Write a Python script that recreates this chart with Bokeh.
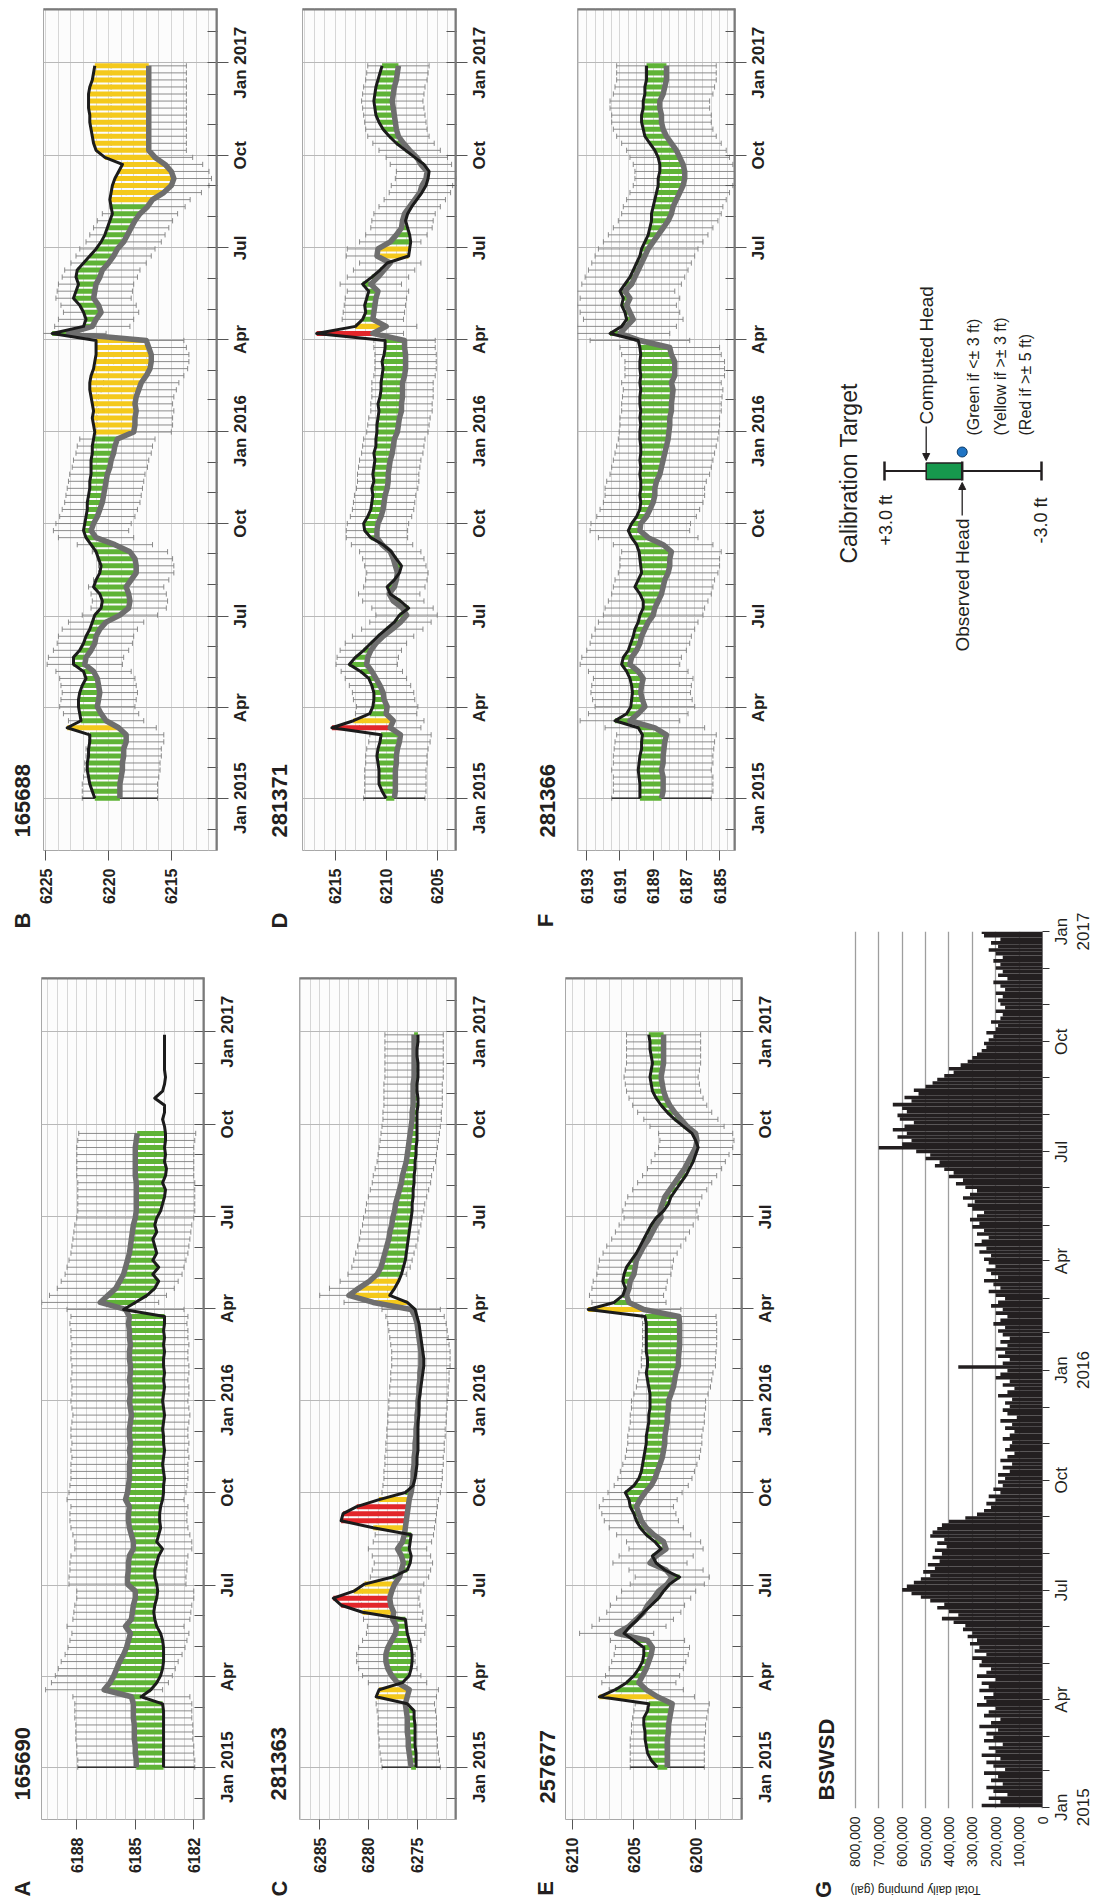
import math
import datetime as dt
from bokeh.plotting import figure
from bokeh.layouts import row, column
from bokeh.models import (Range1d, FixedTicker, Span, Label, ColumnDataSource,
                          Arrow, NormalHead, NumeralTickFormatter)
from bokeh.embed import file_html
from bokeh.resources import INLINE

FONT = "Liberation Sans"
BASE = dt.date(2015, 1, 1)


def dnum(y, m, d=1):
    return (dt.date(y, m, d) - BASE).days


# ---------------- data (weekly, starting 1 Jan 2015) ----------------
N_WEEKS = 105

A_COMP = [6183.55, 6183.55, 6183.55, 6183.55, 6183.55, 6183.55, 6183.55, 6183.55, 6183.55, 6183.6,
          6184.7, 6184.2, 6183.9, 6183.7, 6183.6, 6183.55, 6183.55, 6183.55, 6183.6, 6183.7,
          6183.9, 6184.0, 6184.05, 6184.0, 6183.9, 6183.85, 6183.9, 6184.0, 6184.0, 6183.9,
          6183.8, 6183.6, 6183.9, 6183.8, 6183.7, 6183.75, 6183.75, 6183.7, 6183.6, 6183.55,
          6183.55, 6183.5, 6183.55, 6183.6, 6183.55, 6183.5, 6183.55, 6183.55, 6183.6, 6183.55,
          6183.5, 6183.55, 6183.6, 6183.55, 6183.5, 6183.55, 6183.5, 6183.55, 6183.55, 6183.5,
          6183.55, 6183.5, 6183.55, 6183.5, 6183.5, 6185.6, 6185.0, 6184.4, 6184.0, 6183.8,
          6184.1, 6183.8, 6184.1, 6183.9, 6184.0, 6184.1, 6183.9, 6184.0, 6183.9, 6183.7,
          6183.6, 6183.5, 6183.45, 6183.6, 6183.45, 6183.4, 6183.5, 6183.45, 6183.5, 6183.45,
          6183.45, 6183.5, 6183.6, 6183.5, 6183.5, 6184.0, 6183.6, 6183.5, 6183.45, 6183.5,
          6183.5, 6183.5, 6183.5, 6183.5, 6183.5]
A_OBS = [6184.95, 6184.95, 6185.0, 6185.0, 6185.05, 6185.05, 6185.05, 6185.1, 6185.1, 6185.1,
         6185.2, 6186.6, 6186.3, 6186.1, 6185.95, 6185.8, 6185.6, 6185.45, 6185.35, 6185.25,
         6185.5, 6185.2, 6185.15, 6185.1, 6185.0, 6185.0, 6185.4, 6185.4, 6185.35, 6185.35,
         6185.3, 6185.1, 6185.1, 6185.2, 6185.3, 6185.35, 6185.35, 6185.3, 6185.5, 6185.4,
         6185.35, 6185.3, 6185.3, 6185.3, 6185.25, 6185.3, 6185.25, 6185.3, 6185.3, 6185.25,
         6185.2, 6185.25, 6185.3, 6185.25, 6185.25, 6185.3, 6185.25, 6185.25, 6185.3, 6185.3,
         6185.25, 6185.3, 6185.3, 6185.35, 6185.3, 6185.5, 6186.8, 6186.4, 6186.0, 6185.8,
         6185.6, 6185.5, 6185.4, 6185.3, 6185.25, 6185.2, 6185.15, 6185.1, 6185.0, 6184.95,
         6184.95, 6184.95, 6184.95, 6184.95, 6185.0, 6185.0, 6185.0, 6185.0, 6185.0, 6184.95,
         6184.9, None, None, None, None, None, None, None, None, None,
         None, None, None, None, None]

B_COMP = [6221.1, 6221.3, 6221.5, 6221.6, 6221.7, 6221.7, 6221.6, 6221.6, 6221.5, 6221.5,
          6223.3, 6222.2, 6222.3, 6222.4, 6222.4, 6222.3, 6222.1, 6221.8, 6222.0, 6222.8,
          6222.8, 6222.3, 6222.0, 6221.8, 6221.5, 6221.3, 6221.1, 6220.6, 6220.5, 6220.7,
          6221.2, 6221.0, 6220.7, 6220.6, 6220.8, 6221.0, 6221.4, 6221.8, 6222.0, 6221.9,
          6221.8, 6221.7, 6221.7, 6221.6, 6221.5, 6221.5, 6221.4, 6221.4, 6221.4, 6221.3,
          6221.3, 6221.2, 6221.1, 6221.2, 6221.3, 6221.2, 6221.3, 6221.4, 6221.5, 6221.5,
          6221.4, 6221.2, 6221.1, 6221.0, 6221.0, 6221.0, 6224.5, 6222.0, 6221.8, 6222.0,
          6222.3, 6222.8, 6222.6, 6222.4, 6222.6, 6222.5, 6222.0, 6221.5, 6221.0, 6220.6,
          6220.3, 6220.1, 6219.9, 6219.7, 6219.8, 6219.9, 6219.8, 6219.7, 6219.5, 6219.2,
          6218.9, 6220.3, 6221.0, 6221.2, 6221.3, 6221.4, 6221.5, 6221.5, 6221.6, 6221.6,
          6221.6, 6221.5, 6221.3, 6221.2, 6221.1]
B_OBS = [6219.1, 6219.1, 6219.1, 6219.0, 6218.9, 6218.9, 6218.8, 6218.8, 6218.6, 6218.6,
         6219.2, 6220.2, 6220.6, 6220.9, 6220.8, 6220.7, 6220.8, 6220.9, 6221.2, 6221.9,
         6221.8, 6221.4, 6221.1, 6221.0, 6220.7, 6220.2, 6219.1, 6218.4, 6218.3, 6218.4,
         6218.6, 6218.2, 6217.8, 6217.8, 6217.9, 6218.3, 6219.5, 6221.0, 6221.4, 6221.2,
         6220.9, 6220.7, 6220.5, 6220.4, 6220.3, 6220.2, 6220.1, 6219.9, 6219.8, 6219.6,
         6219.5, 6219.3, 6218.0, 6217.9, 6217.9, 6217.8, 6217.9, 6217.8, 6217.6, 6217.4,
         6217.0, 6216.7, 6216.6, 6216.6, 6216.8, 6217.0, 6223.2, 6221.3, 6221.0, 6220.6,
         6220.8, 6221.2, 6221.1, 6221.0, 6220.7, 6220.5, 6220.0, 6219.6, 6219.3, 6218.8,
         6218.5, 6218.2, 6217.9, 6217.5, 6216.9, 6216.5, 6215.6, 6215.0, 6214.8, 6215.0,
         6215.5, 6216.3, 6216.8, 6216.8, 6216.8, 6216.8, 6216.8, 6216.8, 6216.8, 6216.8,
         6216.8, 6216.8, 6216.8, 6216.8, 6216.8]

C_COMP = [6275.1, 6275.1, 6275.1, 6275.2, 6275.2, 6275.2, 6275.2, 6275.3, 6275.3, 6276.0,
          6279.2, 6278.9, 6276.5, 6275.8, 6275.6, 6275.5, 6275.5, 6275.6, 6275.8, 6276.0,
          6276.1, 6276.2, 6280.6, 6282.8, 6283.6, 6281.5, 6280.4, 6277.5, 6276.0, 6275.7,
          6275.6, 6275.8, 6275.7, 6275.6, 6279.5, 6282.8, 6282.6, 6281.2, 6278.9, 6276.2,
          6275.4, 6275.2, 6275.1, 6275.0, 6275.0, 6274.9, 6274.9, 6274.9, 6274.9, 6274.9,
          6274.8, 6274.8, 6274.8, 6274.7, 6274.6, 6274.5, 6274.4, 6274.3, 6274.3, 6274.4,
          6274.5, 6274.6, 6274.7, 6274.8, 6275.0, 6275.2, 6276.0, 6277.8, 6277.3, 6276.9,
          6276.6, 6276.4, 6276.2, 6276.1, 6276.0, 6275.9, 6275.8, 6275.7, 6275.6, 6275.5,
          6275.5, 6275.4, 6275.4, 6275.3, 6275.3, 6275.2, 6275.2, 6275.1, 6275.1, 6275.0,
          6275.0, 6275.0, 6275.0, 6275.0, 6274.9, 6274.9, 6275.0, 6275.0, 6274.9, 6274.9,
          6274.9, 6275.0, 6275.0, 6274.9, 6274.9]
C_OBS = [6275.6, 6275.7, 6275.8, 6275.9, 6275.9, 6276.0, 6276.0, 6276.0, 6276.1, 6276.2,
         6276.0, 6275.8, 6277.0, 6277.6, 6278.0, 6278.2, 6278.2, 6278.0, 6277.6, 6277.2,
         6277.1, 6277.5, 6277.4, 6277.7, 6277.8, 6277.6, 6277.3, 6276.8, 6276.6, 6276.4,
         6276.6, 6277.0, 6276.5, 6276.3, 6276.2, 6276.1, 6276.0, 6275.9, 6275.8, 6275.6,
         6275.5, 6275.4, 6275.4, 6275.3, 6275.3, 6275.2, 6275.2, 6275.1, 6275.1, 6275.0,
         6275.0, 6274.9, 6274.9, 6274.8, 6274.8, 6274.7, 6274.7, 6274.6, 6274.6, 6274.6,
         6274.7, 6274.8, 6274.9, 6275.0, 6275.2, 6275.6, 6279.5, 6282.0, 6281.0, 6279.9,
         6279.1, 6278.7, 6278.5, 6278.3, 6278.1, 6277.9, 6277.8, 6277.6, 6277.5, 6277.3,
         6277.2, 6277.0, 6276.8, 6276.6, 6276.5, 6276.3, 6276.1, 6276.0, 6275.9, 6275.8,
         6275.7, 6275.6, 6275.5, 6275.5, 6275.4, 6275.4, 6275.4, 6275.4, 6275.3, 6275.3,
         6275.3, 6275.3, 6275.3, 6275.3, 6275.3]

D_COMP = [6210.0, 6210.4, 6210.7, 6210.7, 6210.7, 6210.8, 6210.9, 6210.8, 6210.6, 6210.5,
          6215.3, 6213.2, 6211.6, 6211.3, 6211.2, 6211.2, 6211.4, 6211.7, 6212.5, 6213.6,
          6213.0, 6212.2, 6211.5, 6210.8, 6210.0, 6209.2, 6208.7, 6207.8, 6208.6, 6209.6,
          6209.9, 6209.2, 6208.7, 6208.5, 6209.0, 6209.5, 6210.3, 6211.5, 6212.1, 6212.2,
          6211.8, 6211.5, 6211.4, 6211.3, 6211.4, 6211.2, 6211.3, 6211.2, 6211.1, 6211.2,
          6211.0, 6211.0, 6210.9, 6210.9, 6210.8, 6210.7, 6210.8, 6210.6, 6210.5, 6210.5,
          6210.4, 6210.3, 6210.4, 6210.2, 6210.1, 6210.1, 6216.8, 6213.0, 6212.3, 6212.0,
          6212.1, 6211.9, 6211.7, 6212.3, 6211.4, 6210.6, 6209.9, 6207.8, 6207.7, 6207.6,
          6207.7, 6207.9, 6208.1, 6207.9, 6207.5, 6207.0, 6206.5, 6206.1, 6205.9, 6205.8,
          6206.3, 6207.2, 6208.1, 6209.0, 6209.7, 6210.3, 6210.7, 6211.0, 6211.1, 6211.2,
          6211.1, 6211.0, 6210.8, 6210.6, 6210.4]
D_OBS = [6209.2, 6209.1, 6209.1, 6209.1, 6209.1, 6209.0, 6209.0, 6208.9, 6208.7, 6208.6,
         6209.6, 6209.3, 6210.0, 6209.9, 6210.2, 6210.3, 6210.6, 6211.0, 6211.4, 6211.9,
         6211.8, 6211.5, 6211.0, 6210.3, 6209.4, 6208.6, 6208.0, 6208.4, 6209.3, 6209.7,
         6209.2, 6209.0, 6208.9, 6209.1, 6209.3, 6209.6, 6210.4, 6210.9, 6210.9, 6210.8,
         6210.5, 6210.3, 6210.2, 6210.1, 6209.9, 6209.8, 6209.8, 6209.7, 6209.6, 6209.4,
         6209.3, 6209.2, 6208.9, 6208.8, 6208.7, 6208.5, 6208.5, 6208.4, 6208.4, 6208.4,
         6208.2, 6208.1, 6208.1, 6208.1, 6208.2, 6208.2, 6211.3, 6210.0, 6211.3, 6211.2,
         6211.1, 6211.0, 6210.8, 6211.5, 6210.8, 6210.2, 6209.6, 6210.9, 6210.8, 6209.6,
         6209.0, 6208.5, 6208.4, 6208.2, 6207.7, 6207.2, 6206.7, 6206.5, 6206.1, 6206.0,
         6206.6, 6207.0, 6207.7, 6208.3, 6208.8, 6209.0, 6209.1, 6209.2, 6209.3, 6209.4,
         6209.3, 6209.2, 6209.0, 6208.9, 6208.8]

E_COMP = [6203.1, 6203.6, 6203.9, 6204.0, 6204.1, 6204.1, 6204.2, 6204.2, 6203.9, 6203.8,
          6207.8, 6206.5, 6205.6, 6205.0, 6204.6, 6204.3, 6204.2, 6204.2, 6205.0, 6205.8,
          6205.3, 6204.7, 6204.2, 6203.6, 6203.0, 6202.6, 6202.1, 6201.3, 6202.5, 6203.2,
          6203.5, 6202.8, 6203.3, 6204.0, 6204.5, 6204.8, 6205.0, 6205.3, 6205.4, 6205.7,
          6205.0, 6204.6, 6204.4, 6204.3, 6204.2, 6204.1, 6204.0, 6204.0, 6203.9, 6203.8,
          6203.8, 6203.7, 6203.7, 6203.7, 6203.8, 6203.9, 6204.0, 6203.9, 6203.9, 6204.0,
          6204.0, 6204.0, 6204.0, 6204.0, 6204.1, 6208.7, 6206.6, 6205.9, 6205.7, 6205.9,
          6205.8, 6205.6, 6205.2, 6204.8, 6204.5, 6204.2, 6203.9, 6203.6, 6203.2, 6202.6,
          6202.2, 6202.0, 6201.6, 6201.2, 6200.8, 6200.5, 6200.2, 6200.0, 6199.8, 6200.0,
          6200.3, 6201.0, 6201.7, 6202.3, 6202.8, 6203.2, 6203.5, 6203.6, 6203.7, 6203.6,
          6203.5, 6203.6, 6203.7, 6203.7, 6203.8]
E_OBS = [6202.3, 6202.3, 6202.3, 6202.3, 6202.3, 6202.2, 6202.2, 6202.1, 6202.0, 6201.9,
         6203.1, 6204.0, 6204.6, 6204.3, 6204.0, 6203.8, 6203.6, 6203.5, 6203.9, 6206.4,
         6205.4, 6204.8, 6204.2, 6203.9, 6203.4, 6203.0, 6202.3, 6201.9, 6202.4, 6203.7,
         6203.2, 6202.4, 6202.6, 6203.4, 6204.0, 6204.4, 6204.6, 6204.8, 6204.5, 6204.1,
         6203.6, 6203.3, 6203.1, 6202.9, 6202.7, 6202.6, 6202.5, 6202.5, 6202.4, 6202.3,
         6202.3, 6202.2, 6202.2, 6202.0, 6201.8, 6201.7, 6201.6, 6201.4, 6201.4, 6201.35,
         6201.3, 6201.3, 6201.3, 6201.3, 6201.35, 6204.2, 6205.4, 6205.6, 6205.4, 6205.3,
         6205.0, 6204.9, 6204.8, 6204.5, 6204.2, 6203.8, 6203.5, 6203.2, 6202.8, 6202.9,
         6202.7, 6202.5, 6202.1, 6201.7, 6201.3, 6200.9, 6200.6, 6200.3, 6200.0, 6199.9,
         6200.0, 6200.7, 6201.2, 6201.7, 6202.1, 6202.4, 6202.6, 6202.7, 6202.8, 6202.7,
         6202.6, 6202.6, 6202.6, 6202.6, 6202.6]

F_COMP = [6189.8, 6189.8, 6189.8, 6189.85, 6189.9, 6189.85, 6189.8, 6189.7, 6189.7, 6189.65,
          6189.9, 6191.3, 6190.6, 6190.35, 6190.3, 6190.25, 6190.3, 6190.4, 6190.6, 6190.9,
          6190.8, 6190.5, 6190.35, 6190.2, 6190.1, 6189.9, 6189.8, 6189.6, 6189.6, 6189.8,
          6190.1, 6189.9, 6189.7, 6189.75, 6189.8, 6189.85, 6190.0, 6190.3, 6190.5, 6190.3,
          6190.0, 6189.8, 6189.75, 6189.8, 6189.75, 6189.75, 6189.8, 6189.75, 6189.8, 6189.75,
          6189.75, 6189.8, 6189.8, 6189.75, 6189.8, 6189.75, 6189.8, 6189.8, 6189.75, 6189.8,
          6189.75, 6189.8, 6189.8, 6189.75, 6189.8, 6189.9, 6191.6, 6190.9, 6190.6, 6190.7,
          6190.9, 6190.8, 6191.0, 6190.7, 6190.4, 6190.2, 6190.0, 6189.8, 6189.7, 6189.5,
          6189.3, 6189.2, 6189.1, 6189.1, 6189.0, 6188.9, 6188.8, 6188.7, 6188.7, 6188.6,
          6188.6, 6188.7, 6188.9, 6189.2, 6189.5, 6189.6, 6189.7, 6189.7, 6189.6, 6189.6,
          6189.5, 6189.5, 6189.4, 6189.4, 6189.4]
F_OBS = [6188.5, 6188.4, 6188.4, 6188.4, 6188.5, 6188.4, 6188.4, 6188.35, 6188.3, 6188.2,
         6188.9, 6190.4, 6189.9, 6189.5, 6189.65, 6189.75, 6189.7, 6189.6, 6189.9, 6190.4,
         6190.3, 6190.0, 6189.8, 6189.7, 6189.5, 6189.3, 6189.0, 6188.9, 6188.7, 6188.5,
         6188.4, 6188.3, 6188.1, 6188.0, 6188.0, 6187.9, 6188.4, 6189.3, 6189.8, 6189.75,
         6189.4, 6189.2, 6189.0, 6188.9, 6188.9, 6188.8, 6188.6, 6188.5, 6188.4, 6188.3,
         6188.2, 6188.1, 6188.05, 6188.0, 6188.0, 6187.9, 6187.9, 6187.85, 6187.8, 6187.9,
         6187.7, 6187.7, 6187.7, 6187.9, 6188.0, 6189.8, 6191.0, 6190.6, 6190.2, 6190.4,
         6190.6, 6190.4, 6190.7, 6190.3, 6190.1, 6189.9, 6189.7, 6189.5, 6189.3, 6189.0,
         6188.7, 6188.4, 6188.1, 6187.9, 6187.8, 6187.6, 6187.4, 6187.2, 6187.1, 6187.1,
         6187.2, 6187.4, 6187.6, 6187.9, 6188.2, 6188.4, 6188.5, 6188.5, 6188.6, 6188.6,
         6188.4, 6188.3, 6188.2, 6188.2, 6188.2]

# BSWSD total daily pumping, thousand gallons, one value per 3-day step from 1 Jan 2015
G_PUMP_K = [260, 180, 230, 150, 210, 240, 170, 220, 190, 250, 160,
            210, 240, 180, 260, 200, 230, 170, 250, 210,
            240, 190, 270, 220, 180, 250, 230, 200, 280, 240,
            250, 210, 270, 230, 260, 200, 280, 240, 220, 270,
            260, 300, 240, 290, 270, 310, 280, 320, 300, 340,
            330, 380, 430, 360, 400, 450, 420, 480, 520, 560,
            600, 580, 550, 520, 480, 510, 460, 490, 440, 470,
            430, 460, 410, 450, 420, 480, 470, 450, 430, 400, 330,
            280, 250, 220, 240, 200, 230, 180, 210, 170, 190,
            160, 190, 140, 170, 130, 180, 150, 120, 160, 140, 130,
            170, 140, 120, 160, 130, 180, 110, 150, 170, 140,
            160, 130, 190, 150, 120, 170, 140, 200, 180, 150,
            360, 170, 140, 190, 160, 200, 150, 180, 140, 170,
            190, 160, 210, 180, 150, 200, 170, 220, 190, 160,
            200, 230, 180, 210, 250, 190, 220, 240, 200, 230,
            250, 220, 270, 240, 290, 260, 230, 280, 250, 300,
            270, 310, 280, 250, 300, 320, 290, 340, 310, 280,
            330, 370, 340, 400, 380, 420, 460, 440, 500, 480,
            540, 700, 600, 560, 620, 580, 640, 590, 550, 610,
            620, 580, 600, 640, 560, 590, 530, 550, 500, 470, 450,
            420, 380, 400, 350, 320, 300, 280, 260, 240, 250,
            230, 210, 240, 200, 190, 220, 180, 170, 200, 160, 180,
            190, 170, 200, 160, 180, 210, 150, 190, 170, 200,
            180, 210, 170, 200, 230, 190, 220, 180, 250, 260]
G_STEP_DAYS = 3

QUARTERS = [(2015, 1), (2015, 4), (2015, 7), (2015, 10), (2016, 1),
            (2016, 4), (2016, 7), (2016, 10), (2017, 1)]
QUARTER_LABELS = ["Jan 2015", "Apr", "Jul", "Oct", "Jan 2016", "Apr", "Jul", "Oct", "Jan 2017"]
G_MONTH_LABELS = ["Jan", "Apr", "Jul", "Oct", "Jan", "Apr", "Jul", "Oct", "Jan"]
G_YEAR_LABELS = ["2015", "", "", "", "2016", "", "", "", "2017"]

for lst in (A_COMP, A_OBS, B_COMP, B_OBS, C_COMP, C_OBS, D_COMP, D_OBS, E_COMP, E_OBS, F_COMP, F_OBS):
    assert len(lst) == N_WEEKS, len(lst)
assert len(G_PUMP_K) == 244, len(G_PUMP_K)

WEEK_DAYS = [7 * i for i in range(N_WEEKS)]
Q_TICKS = [dnum(y, m) for (y, m) in QUARTERS]


def month_list(y0, m0, y1, m1):
    out = []
    y, m = y0, m0
    while (y, m) <= (y1, m1):
        out.append(dnum(y, m))
        m += 1
        if m > 12:
            m, y = 1, y + 1
    return out


M_TICKS = month_list(2014, 12, 2017, 2)
D_RANGE = (dnum(2014, 11, 10), dnum(2017, 2, 24))

GREEN, YELLOW, RED = "#5fb336", "#f4c91c", "#e2262a"
TXT = "#231f20"

TOP_ROW = (0, 935)
BOT_ROW = (935, 1902)
COLS = [(0, 265), (265, 520), (520, 800)]

# frame = page-pixel box of the plotting area; sb = x where the text strip ends and the plot starts
PANELS = [
    dict(key="B", well="165688", comp=B_COMP, obs=B_OBS, frame=(43, 8, 217, 850), sb=36, col=0,
         rowy=TOP_ROW, vrange=(6225.19, 6211.32), vticks=[6215, 6220, 6225], gstep=1.0,
         letter=(22, 920), wellpos=(22, 837)),
    dict(key="D", well="281371", comp=D_COMP, obs=D_OBS, frame=(302, 8, 456, 850), sb=294, col=1,
         rowy=TOP_ROW, vrange=(6218.18, 6203.12), vticks=[6205, 6210, 6215], gstep=1.0,
         letter=(279, 920), wellpos=(279, 837)),
    dict(key="F", well="281366", comp=F_COMP, obs=F_OBS, frame=(577, 8, 735, 850), sb=569, col=2,
         rowy=TOP_ROW, vrange=(6193.56, 6184.04), vticks=[6185, 6187, 6189, 6191, 6193], gstep=0.5,
         letter=(545, 920), wellpos=(547, 837)),
    dict(key="A", well="165690", comp=A_COMP, obs=A_OBS, frame=(41, 977, 204, 1819), sb=36, col=0,
         rowy=BOT_ROW, vrange=(6189.81, 6181.45), vticks=[6182, 6185, 6188], gstep=0.5,
         letter=(22, 1888), wellpos=(22, 1800)),
    dict(key="C", well="281363", comp=C_COMP, obs=C_OBS, frame=(299, 977, 456, 1819), sb=293, col=1,
         rowy=BOT_ROW, vrange=(6287.08, 6270.94), vticks=[6275, 6280, 6285], gstep=1.0,
         letter=(279, 1888), wellpos=(278, 1800)),
    dict(key="E", well="257677", comp=E_COMP, obs=E_OBS, frame=(565, 977, 742, 1819), sb=562, col=2,
         rowy=BOT_ROW, vrange=(6210.54, 6196.21), vticks=[6200, 6205, 6210], gstep=1.0,
         letter=(545, 1888), wellpos=(547, 1803)),
]


def base_fig(width, height, xr, yr, **kw):
    f = figure(width=width, height=height, x_range=Range1d(*xr), y_range=Range1d(*yr),
               toolbar_location=None, tools="", output_backend="svg", **kw)
    f.frame_align = False
    return f


def strip(x0, x1, y0, y1):
    """A plain text area whose data coordinates are page pixels (y downward)."""
    f = base_fig(x1 - x0, y1 - y0, (x0, x1), (y1, y0), x_axis_type=None, y_axis_type=None,
                 min_border=0)
    f.outline_line_color = None
    f.background_fill_color = "white"
    f.border_fill_color = "white"
    return f


def vlabel(fig, x, y, text, size, bold=False, align="left", angle=math.pi / 2):
    fig.add_layout(Label(x=x, y=y, text=text, angle=angle, text_align=align, text_baseline="middle",
                         text_font=FONT, text_font_style="bold" if bold else "normal",
                         text_font_size=size, text_color=TXT))


def make_panel(s):
    l, t, r, b = s["frame"]
    cx0, cx1 = COLS[s["col"]]
    ry0, ry1 = s["rowy"]
    sb = s["sb"]
    PR = 12
    p = base_fig(r + PR - sb, ry1 - ry0, s["vrange"], D_RANGE,
                 x_axis_location="below", y_axis_location="right",
                 min_border_left=l - sb, min_border_right=PR, min_border_top=t - ry0,
                 min_border_bottom=ry1 - b)
    p.background_fill_color = "#fcfcfc"
    p.border_fill_color = "white"
    p.outline_line_color = "#a8a8a8"
    p.outline_line_width = 1

    vs, ve = s["vrange"]
    lo, hi = min(vs, ve), max(vs, ve)
    g = []
    v = math.ceil(lo / s["gstep"]) * s["gstep"]
    while v <= hi:
        g.append(round(v, 2))
        v += s["gstep"]
    p.xgrid.ticker = FixedTicker(ticks=g)
    p.xgrid.grid_line_color = "#d6d6d6"
    p.ygrid.ticker = FixedTicker(ticks=Q_TICKS)
    p.ygrid.grid_line_color = "#b8b8b8"

    xa = p.xaxis[0]
    xa.ticker = FixedTicker(ticks=s["vticks"])
    xa.major_label_orientation = math.pi / 2
    xa.major_label_text_font = FONT
    xa.major_label_text_font_style = "bold"
    xa.major_label_text_font_size = "16px"
    xa.major_label_text_color = TXT
    xa.major_tick_out = 10
    xa.major_tick_in = 0
    xa.minor_tick_out = 0
    xa.minor_tick_in = 0
    xa.major_tick_line_color = "#555555"
    xa.axis_line_color = None
    xa.major_label_standoff = 8

    ya = p.yaxis[0]
    ya.ticker = FixedTicker(ticks=Q_TICKS, minor_ticks=M_TICKS)
    ya.major_label_overrides = {int(k): "" for k in Q_TICKS}
    ya.major_label_text_font_size = "0px"
    ya.major_label_standoff = 0
    ya.major_tick_out = 11
    ya.major_tick_in = 4
    ya.minor_tick_in = 10
    ya.minor_tick_out = 0
    ya.major_tick_line_color = "#555555"
    ya.minor_tick_line_color = "#555555"
    ya.axis_line_color = None

    p.add_layout(Span(location=D_RANGE[1], dimension="width", line_color="#7a7a7a", line_width=4))
    p.add_layout(Span(location=ve, dimension="height", line_color="#7a7a7a", line_width=4))

    comp = s["comp"]
    obs = s["obs"]
    days, ob, cp = [], [], []
    for d, o, c in zip(WEEK_DAYS, obs, comp):
        if o is not None:
            days.append(d)
            ob.append(o)
            cp.append(c)
    colors = []
    for o, c in zip(ob, cp):
        diff = abs(c - o)
        colors.append(GREEN if diff < 3 else (YELLOW if diff < 5 else RED))
    src = ColumnDataSource(dict(
        day=days, lo=[o - 3 for o in ob], hi=[o + 3 for o in ob],
        left=[min(o, c) for o, c in zip(ob, cp)], right=[max(o, c) for o, c in zip(ob, cp)],
        c0=[d - 2.6 for d in days], c1=[d + 2.6 for d in days], color=colors))
    # calibration-target whiskers: +/- 3 ft around the observed head
    wcol = "#7f7f7f"
    p.segment(x0="lo", x1="hi", y0="day", y1="day", source=src, line_color=wcol, line_width=0.9)
    p.segment(x0="lo", x1="lo", y0="c0", y1="c1", source=src, line_color=wcol, line_width=0.9)
    p.segment(x0="hi", x1="hi", y0="c0", y1="c1", source=src, line_color=wcol, line_width=0.9)
    p.segment(x0=[ob[0] - 3], x1=[ob[0] + 3], y0=[days[0]], y1=[days[0]],
              line_color="#333333", line_width=1.6)
    # residual bars between observed and computed head
    p.hbar(y="day", left="left", right="right", height=5.0, source=src,
           fill_color="color", line_color=None)
    obs_line = [float("nan") if o is None else o for o in obs]
    p.line(x=obs_line, y=WEEK_DAYS, line_color="#6e6e6e", line_width=5.5, line_join="round")
    p.line(x=comp, y=WEEK_DAYS, line_color="#1b1b1b", line_width=3, line_join="round")

    # left strip: panel letter and well id
    ls = strip(cx0, sb, ry0, ry1)
    vlabel(ls, s["letter"][0], s["letter"][1], s["key"], "22px", bold=True, align="center")
    vlabel(ls, s["wellpos"][0], s["wellpos"][1], s["well"], "22px", bold=True)
    # right strip: date labels centred on the quarter ticks
    rs = strip(r + PR, cx1, ry0, ry1)
    for d, txt in zip(Q_TICKS, QUARTER_LABELS):
        ypx = b - (d - D_RANGE[0]) * (b - t) / (D_RANGE[1] - D_RANGE[0])
        vlabel(rs, r + 23, ypx, txt, "17px", bold=True, align="center")
    return row(ls, p, rs)


cells = {s["key"]: make_panel(s) for s in PANELS}

# ---------------- G: pumping ----------------
CAL_H = 900
G_FRAME = (853, 931, 1042, 1808)
G_X0, G_X1, G_Y0, G_Y1 = 840, 1050, CAL_H, 1878
G_XR = (808000, 0)
G_YR = (-1, dnum(2017, 1, 1))
gl, gt, gr, gb = G_FRAME
gp = base_fig(G_X1 - G_X0, G_Y1 - G_Y0, G_XR, G_YR, x_axis_location="below", y_axis_location="right",
              min_border_left=gl - G_X0, min_border_right=G_X1 - gr, min_border_top=gt - G_Y0,
              min_border_bottom=G_Y1 - gb)
gp.background_fill_color = "white"
gp.border_fill_color = "white"
gp.outline_line_color = None
g_ticks = [100000 * i for i in range(9)]
gp.xgrid.ticker = FixedTicker(ticks=g_ticks[1:])
gp.xgrid.grid_line_color = "#9e9e9e"
gp.xgrid.grid_line_width = 1.3
gp.ygrid.grid_line_color = None
gxa = gp.xaxis[0]
gxa.ticker = FixedTicker(ticks=g_ticks)
gxa.formatter = NumeralTickFormatter(format="0,0")
gxa.major_label_orientation = math.pi / 2
gxa.major_label_text_font = FONT
gxa.major_label_text_font_size = "14px"
gxa.major_label_text_color = TXT
gxa.major_tick_out = 0
gxa.major_tick_in = 0
gxa.minor_tick_out = 0
gxa.minor_tick_in = 0
gxa.axis_line_color = None
gxa.major_label_standoff = 8
g_month_ticks = month_list(2015, 1, 2017, 1)
gya = gp.yaxis[0]
gya.ticker = FixedTicker(ticks=g_month_ticks)
gya.major_label_overrides = {int(t): "" for t in g_month_ticks}
gya.major_label_text_font_size = "0px"
gya.major_label_standoff = 0
gya.major_tick_out = 7
gya.major_tick_in = 0
gya.minor_tick_out = 0
gya.minor_tick_in = 0
gya.major_tick_line_color = "#333333"
gya.axis_line_color = None
g_centers = [G_STEP_DAYS * i + G_STEP_DAYS / 2 for i in range(len(G_PUMP_K))]
gp.hbar(y=g_centers, left=0, right=[v * 1000 for v in G_PUMP_K], height=G_STEP_DAYS,
        fill_color="#231f20", line_color=None)
gp.add_layout(Span(location=0, dimension="height", line_color="#231f20", line_width=1.5))

g_left = strip(800, G_X0, G_Y0, G_Y1)
vlabel(g_left, 826, 1800, "BSWSD", "22px", bold=True)
g_right = strip(G_X1, 1098, G_Y0, G_Y1)
for d, mtxt, ytxt in zip(Q_TICKS, G_MONTH_LABELS, G_YEAR_LABELS):
    ypx = gb - (d - G_YR[0]) * (gb - gt) / (G_YR[1] - G_YR[0])
    vlabel(g_right, 1061, ypx, mtxt, "17px", align="center")
    if ytxt:
        vlabel(g_right, 1082, ypx, ytxt, "17px", align="center")
g_bottom = strip(800, 1098, G_Y1, 1902)
vlabel(g_bottom, 823, 1889, "G", "22px", bold=True, align="center")
vlabel(g_bottom, 915, 1889, "Total daily pumping (gal)", "12px", align="center", angle=math.pi)

# ---------------- calibration target legend ----------------
cal = strip(800, 1098, 0, CAL_H)
vlabel(cal, 848, 563, "Calibration Target", "23px")
vlabel(cal, 885, 545, "+3.0 ft", "18px")
vlabel(cal, 1040, 543, "-3.0 ft", "18px")
cal.segment(x0=[884], x1=[1041], y0=[470.5], y1=[470.5], line_color=TXT, line_width=2)
cal.segment(x0=[884, 1041], x1=[884, 1041], y0=[461, 461], y1=[480, 480], line_color=TXT, line_width=2.5)
cal.quad(left=[925.7], right=[961.7], top=[462.5], bottom=[479], fill_color="#16984d",
         line_color=TXT, line_width=1.5)
cal.segment(x0=[961.7], x1=[961.7], y0=[461], y1=[480], line_color=TXT, line_width=2.5)
cal.scatter(x=[961.7], y=[451.5], size=10, fill_color="#1f74c4", line_color="#0b3a66", line_width=1)
cal.add_layout(Arrow(x_start=925.7, y_start=426, x_end=925.7, y_end=460, line_color=TXT, line_width=1.3,
                     end=NormalHead(size=7, fill_color=TXT, line_color=TXT)))
vlabel(cal, 925.7, 424, "Computed Head", "19px")
cal.add_layout(Arrow(x_start=961.7, y_start=515, x_end=961.7, y_end=482, line_color=TXT, line_width=1.3,
                     end=NormalHead(size=7, fill_color=TXT, line_color=TXT)))
vlabel(cal, 961.7, 518, "Observed Head", "19px", align="right")
vlabel(cal, 973, 435, "(Green if <\u00b1 3 ft)", "16px")
vlabel(cal, 1000, 435, "(Yellow if >\u00b1 3 ft)", "16px")
vlabel(cal, 1025, 435, "(Red if >\u00b1 5 ft)", "16px")

layout = row(
    column(cells["B"], cells["A"]),
    column(cells["D"], cells["C"]),
    column(cells["F"], cells["E"]),
    column(cal, column(row(g_left, gp, g_right), g_bottom)),
)

open("out.html", "w").write(file_html(layout, INLINE))
